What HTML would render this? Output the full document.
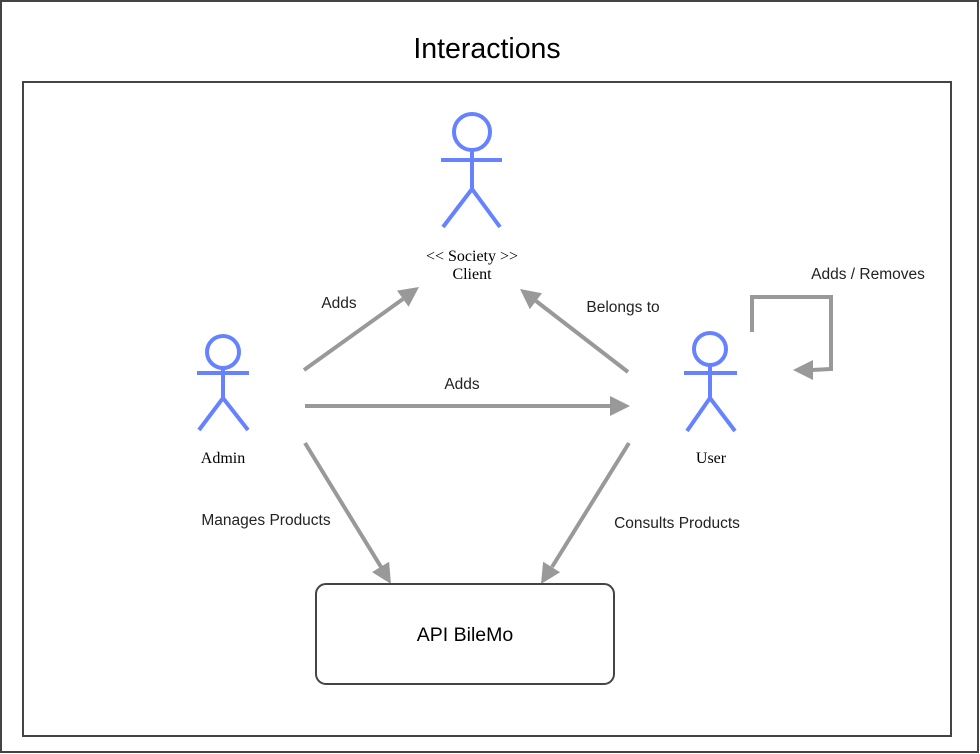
<!DOCTYPE html>
<html><head><style>
html,body{margin:0;padding:0;background:#fff;}
svg{display:block;}
</style></head><body>
<svg width="980" height="754" viewBox="0 0 980 754" xmlns="http://www.w3.org/2000/svg">
<rect x="1" y="1" width="977" height="751" fill="#fff" stroke="#444" stroke-width="2"/>
<text x="487" y="58" text-anchor="middle" font-family="Liberation Sans, sans-serif" font-size="28.5" fill="#000">Interactions</text>
<rect x="23" y="82" width="928" height="654" fill="#fff" stroke="#444" stroke-width="2"/>

<g stroke="#6682ff" stroke-width="4" fill="none">
<circle cx="472" cy="132" r="18"/>
<line x1="441" y1="160" x2="502" y2="160"/><line x1="472" y1="150" x2="472" y2="189"/>
<polyline points="443,227 472,189 500,227"/>
<circle cx="223" cy="352" r="16"/>
<line x1="197" y1="373" x2="249" y2="373"/><line x1="223" y1="368" x2="223" y2="398"/>
<polyline points="199,430 223,398 248,430"/>
<circle cx="710" cy="349" r="16"/>
<line x1="684" y1="373" x2="737" y2="373"/><line x1="710" y1="365" x2="710" y2="398"/>
<polyline points="687,431 710,398 735,431"/>
</g>

<g font-family="Liberation Serif, serif" font-size="16" fill="#000" text-anchor="middle">
<text x="472" y="261">&lt;&lt; Society &gt;&gt;</text>
<text x="472" y="279">Client</text>
<text x="223" y="463">Admin</text>
<text x="711" y="463">User</text>
</g>

<g stroke="#999" stroke-width="4" fill="none">
<line x1="304" y1="370" x2="403" y2="299"/>
<line x1="628" y1="372" x2="536" y2="301"/>
<line x1="305" y1="406" x2="611" y2="406"/>
<line x1="305" y1="443" x2="381" y2="567"/>
<line x1="629" y1="443" x2="552" y2="567"/>
<polyline points="752,332 752,297 831,297 831,369 812,370"/>
</g>
<g fill="#999">
<polygon points="419,287 408.6,306.8 397,290.6"/>
<polygon points="520,289 542,293.3 529.8,309.1"/>
<polygon points="630,406 610,396 610,416"/>
<polygon points="391,584 389.1,561.7 372.1,572.1"/>
<polygon points="541,584 560.1,572.3 543.1,561.7"/>
<polygon points="793,370 813,360 813,380"/>
</g>

<rect x="316" y="584" width="298" height="100" rx="10" fill="#fff" stroke="#444" stroke-width="2"/>
<text x="465" y="641" text-anchor="middle" font-family="Liberation Sans, sans-serif" font-size="19.5" fill="#000">API BileMo</text>

<g font-family="Liberation Sans, sans-serif" font-size="15.5" fill="#222">
<text x="339" y="308" text-anchor="middle">Adds</text>
<text x="623" y="312" text-anchor="middle">Belongs to</text>
<text x="462" y="389" text-anchor="middle">Adds</text>
<text x="868" y="279" text-anchor="middle">Adds / Removes</text>
<text x="266" y="525" text-anchor="middle">Manages Products</text>
<text x="677" y="528" text-anchor="middle">Consults Products</text>
</g>
</svg>
</body></html>
